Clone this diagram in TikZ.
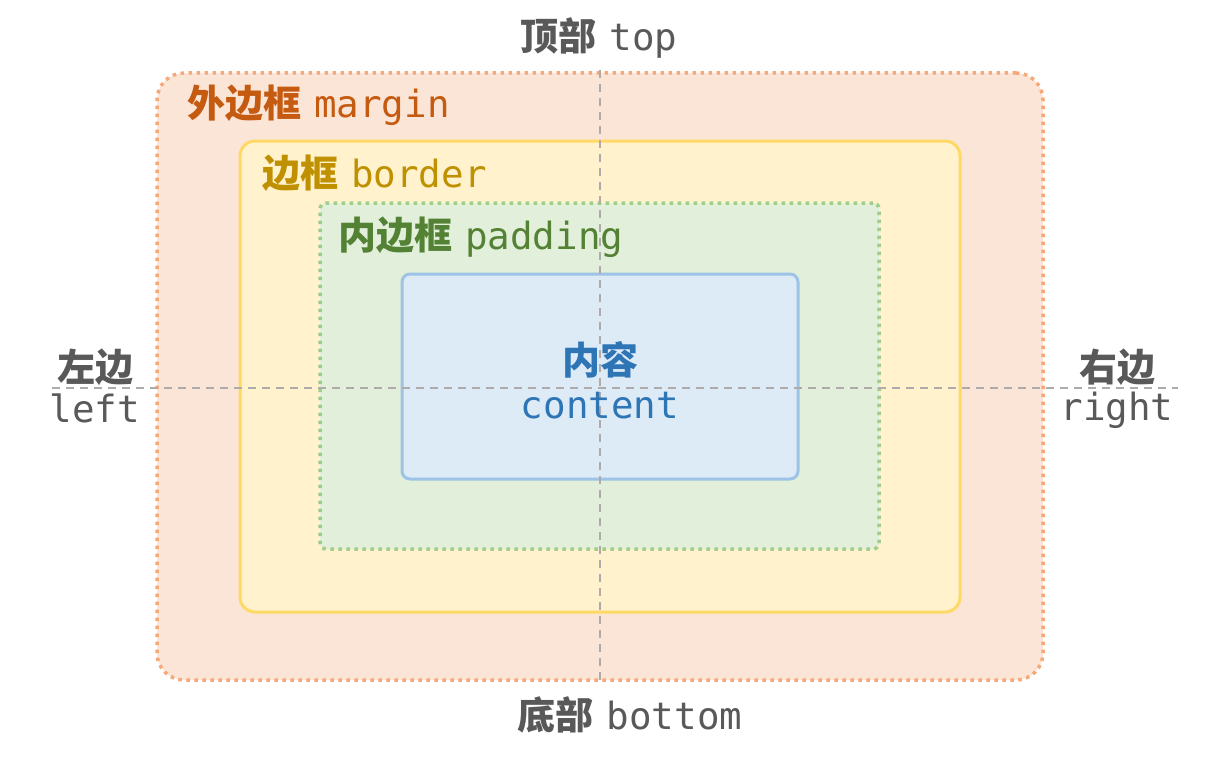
\documentclass[tikz,border=0pt]{standalone}
\usepackage{fontspec}
\setmonofont{DejaVu Sans Mono}
\newfontfamily\cjk{Noto Sans CJK SC}
\newcommand{\zhtext}[1]{{\cjk\bfseries\fontsize{38}{42}\selectfont #1}}
\usetikzlibrary{positioning}
\definecolor{cMarg}{HTML}{F6A878}
\definecolor{cMargFill}{HTML}{FBE5D6}
\definecolor{cMargTxt}{HTML}{C55A11}
\definecolor{cBord}{HTML}{FFD966}
\definecolor{cBordFill}{HTML}{FFF2CC}
\definecolor{cBordTxt}{HTML}{BF9000}
\definecolor{cPad}{HTML}{A0CD88}
\definecolor{cPadFill}{HTML}{E2EFDA}
\definecolor{cPadTxt}{HTML}{548235}
\definecolor{cCont}{HTML}{9DC3E6}
\definecolor{cContFill}{HTML}{DDEBF7}
\definecolor{cContTxt}{HTML}{2E75B6}
\definecolor{cSide}{HTML}{595959}
\definecolor{cGuide}{HTML}{AFABAB}

\begin{document}
\begin{tikzpicture}[
  x=1pt,y=-1pt,
  layer/.style={line width=3pt,inner sep=0pt},
  dotline/.style={line width=3.5pt,dash pattern=on 3.5pt off 4.5pt},
  lab/.style={font=\fontsize{37.5}{42}\selectfont\ttfamily,inner sep=0pt},
  side/.style={lab,text=cSide},
  guide/.style={draw=cGuide,line width=1.5pt,dash pattern=on 8pt off 6pt},
  ]
  \useasboundingbox (0,0) rectangle (1218,760);

  % nested boxes, outside in
  \node[layer,dotline,draw=cMarg,fill=cMargFill,rounded corners=27pt,
        minimum width=886pt,minimum height=607pt] (margin) at (600,376.5) {};
  \node[layer,draw=cBord,fill=cBordFill,rounded corners=15pt,
        minimum width=720pt,minimum height=471pt] (border) at (600,376.5) {};
  \node[layer,dotline,draw=cPad,fill=cPadFill,rounded corners=6pt,
        minimum width=559pt,minimum height=346pt] (padding) at (599.5,376) {};
  \node[layer,draw=cCont,fill=cContFill,rounded corners=8pt,
        minimum width=396pt,minimum height=205pt] (content) at (600,376.5) {};

  % centre guides
  \coordinate (vtop) at (600,70);
  \coordinate (vbot) at (600,682);
  \coordinate (hleft) at (52,388);
  \coordinate (hright) at (1178,388);
  \draw[guide] (vtop) -- (vbot);
  \draw[guide] (hleft) -- (hright);

  \node[lab,anchor=west,text=cMargTxt] (margtitle) at (187,105)
    {\zhtext{外边框}\hspace{13pt}margin};
  \node[lab,anchor=west,text=cBordTxt] (bordtitle) at (262,173)
    {\zhtext{边框}\hspace{13pt}border};
  \node[lab,anchor=west,text=cPadTxt] (padtitle) at (338,237)
    {\zhtext{内边框}\hspace{13pt}padding};
  \node[lab,text=cContTxt] (contcn) at (600,360) {\zhtext{内容}};
  \node[lab,text=cContTxt] (conten) at (600,406) {content};

  \node[side] (top) at (599,38) {\zhtext{顶部}\hspace{13pt}top};
  \node[side] (bottom) at (630,715) {\zhtext{底部}\hspace{13pt}bottom};
  \node[side] (leftcn) at (95,367) {\zhtext{左边}};
  \node[side] (leften) at (95,408) {left};
  \node[side] (rightcn) at (1117,367) {\zhtext{右边}};
  \node[side] (righten) at (1117,410) {right};
\end{tikzpicture}
\end{document}
